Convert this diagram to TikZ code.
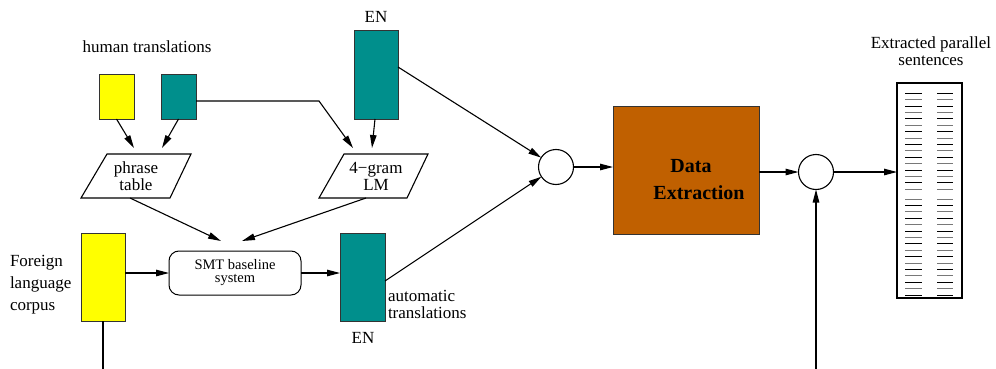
\documentclass[tikz,border=0pt]{standalone}
\usepackage{fontspec}
\setmainfont{Liberation Serif}
\usetikzlibrary{arrows.meta,calc}
\definecolor{tealbox}{RGB}{0,143,140}
\definecolor{yelbox}{RGB}{255,255,0}
\definecolor{orbox}{RGB}{192,96,0}
\definecolor{rowgray}{RGB}{120,120,120}
\begin{document}
\begin{tikzpicture}[x=1pt,y=-1pt,
  every node/.style={inner sep=0pt,outer sep=0pt},
  lbl/.style={font=\fontsize{17}{17}\selectfont,align=center},
  fbox/.style={draw=black!80,line width=1pt},
  tealrect/.style={fbox,fill=tealbox},
  yelrect/.style={fbox,fill=yelbox},
  circ/.style={draw,circle,line width=1.1pt,minimum size=35pt},
  conn/.style={line width=1.1pt,-{Triangle[length=13pt,width=6.5pt]}},
  plain/.style={line width=1.1pt}]
\useasboundingbox (0,0) rectangle (996,369);

% labels
\node[lbl] (htl) at (147,47) {human translations};
\node[lbl] (en1l) at (376,17) {EN};
\node[lbl] (en2l) at (363,338) {EN};
\node[lbl,align=left,anchor=west,font=\fontsize{17}{22}\selectfont] (flc) at (10,285) {Foreign\\language\\corpus};
\node[lbl,align=left,anchor=west] (atl) at (388,304) {automatic\\translations};
\node[lbl] (exl) at (931,51) {Extracted parallel\\sentences};

% rectangles
\node[yelrect,minimum width=35pt,minimum height=44pt] (y1) at (116.5,97) {};
\node[tealrect,minimum width=35pt,minimum height=44pt] (t1) at (178.5,97) {};
\node[tealrect,minimum width=44pt,minimum height=88pt] (en1) at (376,75) {};
\node[yelrect,minimum width=44pt,minimum height=88pt] (corpus) at (103,277) {};
\node[tealrect,minimum width=45pt,minimum height=88pt] (en2) at (362.5,277) {};

% parallelograms
\node[lbl,minimum width=86pt,minimum height=44pt] (pt) at (136,176) {phrase\\table};
\draw[plain] (107,154) -- (191,154) -- (170,198) -- (81,198) -- cycle;
\node[lbl,minimum width=86pt,minimum height=44pt] (lm) at (374,176) {\hspace*{4pt}4−gram\\\hspace*{4pt}LM};
\draw[plain] (344,154) -- (428,154) -- (407,198) -- (319,198) -- cycle;

% SMT
\node[draw,line width=1pt,rounded corners=10pt,minimum width=132pt,minimum height=44pt,
  align=center,font=\fontsize{14.5}{13}\selectfont] (smt) at (235,273) {SMT baseline\\system};

% circles
\node[circ] (c1) at (556,167) {};
\node[circ] (c2) at (816,172) {};

% data extraction
\node[fbox,fill=orbox,minimum width=146pt,minimum height=128pt] (de) at (686,170) {};
\node[align=center,font=\bfseries\fontsize{20}{27}\selectfont] (detxt) at (691,180) {Data\\\hspace*{16pt}Extraction};

% extracted box
\node[draw,line width=1.1pt,minimum width=65pt,minimum height=215pt] (ex) at (929.5,190.5) {};
\foreach \i in {0,...,15}{
  \pgfmathsetmacro{\yy}{93.3+6.4*\i}
  \pgfmathtruncatemacro{\odd}{mod(\i,2)}
  \ifnum\odd=0 \def\rc{black}\else\def\rc{rowgray}\fi
  \draw[\rc,line width=0.9pt] (905,\yy) -- (922,\yy) (937,\yy) -- (953,\yy);
}
\foreach \i in {0,...,15}{
  \pgfmathsetmacro{\yy}{199+6.4*\i}
  \pgfmathtruncatemacro{\odd}{mod(\i,2)}
  \ifnum\odd=0 \def\rc{rowgray}\else\def\rc{black}\fi
  \draw[\rc,line width=0.9pt] (905,\yy) -- (922,\yy) (937,\yy) -- (953,\yy);
}

% coordinates
\coordinate (bot1) at (103,369);
\coordinate (bot2) at (816,369);

% connectors
\draw[conn] (y1.south) -- ([xshift=-2pt,yshift=6pt]pt.north);
\draw[conn] (t1.south) -- ([xshift=26pt,yshift=6pt]pt.north);
\draw[conn] ([yshift=-4pt]t1.east) -- (319,101) -- ([xshift=-21pt,yshift=6pt]lm.north);
\draw[conn] ([xshift=-1pt]en1.south) -- ([xshift=-2pt,yshift=6pt]lm.north);
\draw[conn] ([xshift=-6pt]pt.south) -- (221,241);
\draw[conn] ([xshift=-8pt]lm.south) -- (242,241);
\draw[conn] ([yshift=4pt]corpus.east) -- (smt.west);
\draw[conn] (smt.east) -- (en2.west |- smt.east);
\draw[plain] (corpus.south) -- (bot1);
\draw[conn] ([yshift=-4pt]en2.east) -- (c1);
\draw[conn] ([yshift=8pt]en1.east) -- (c1);
\draw[conn] (c1) -- (c1 -| de.west);
\draw[conn] (de.east |- c2) -- (c2);
\draw[conn] (c2) -- (c2 -| ex.west);
\draw[conn] (bot2) -- (c2);
\end{tikzpicture}
\end{document}
